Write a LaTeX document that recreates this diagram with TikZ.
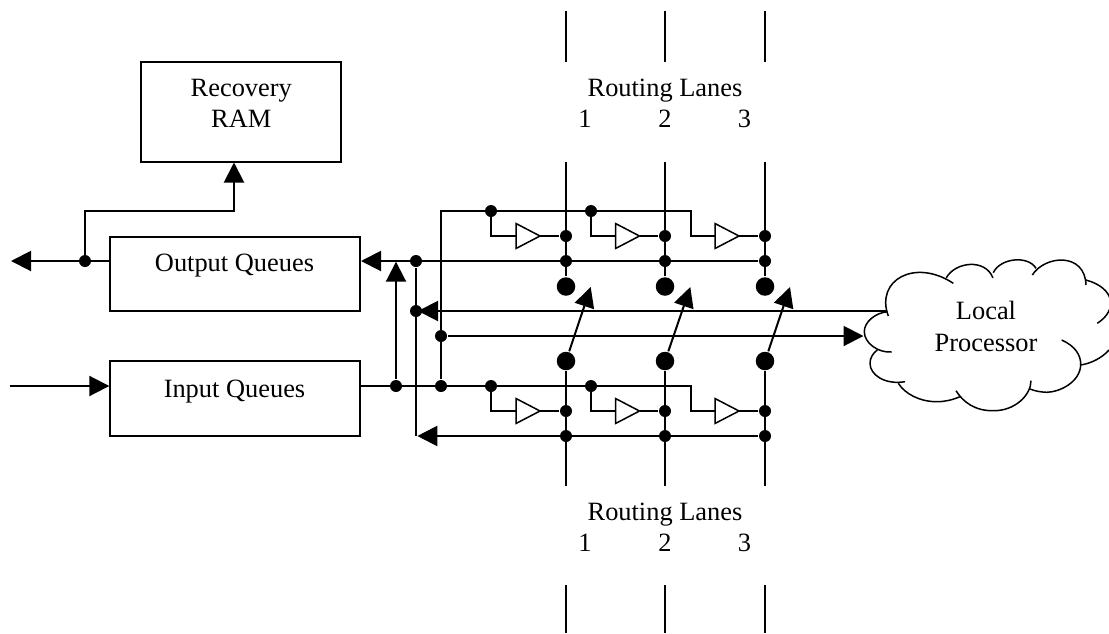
\documentclass[tikz,border=0pt]{standalone}
\usepackage{fontspec}
\setmainfont{Liberation Serif}
\usetikzlibrary{arrows.meta,shapes.geometric}
\tikzset{
	jdot/.style={circle,fill=black,inner sep=0pt,minimum size=12pt},
	bigdot/.style={circle,fill=black,inner sep=0pt,minimum size=18.5pt},
	buf/.style={draw,line width=1.5pt,isosceles triangle,isosceles triangle apex angle=55,isosceles triangle stretches=true,minimum height=24pt,minimum width=25pt,inner sep=0pt,outer sep=0pt,anchor=lower side},
	feed/.style={-{Triangle[length=20pt,width=20pt]}},
	box/.style={draw,rectangle,inner sep=0pt,outer sep=0pt},
	lbl/.style={font=\fontsize{26.4}{30}\selectfont,anchor=base,inner sep=0pt},
	puff/.style={line width=1.5pt}
}

\begin{document}
\begin{tikzpicture}[x=1pt,y=-1pt,line width=2pt]
	\def\xone{566}
	\def\xtwo{665}
	\def\xthree{765}
	\def\yrail{211}
	\def\ybufu{236}
	\def\yout{261}
	\def\ybigu{286.5}
	\def\yfrom{311}
	\def\yto{336}
	\def\ybigl{361}
	\def\yin{386}
	\def\ybufl{411}
	\def\yback{436}
	\useasboundingbox (0,0) rectangle (1109,633);

	% boxes
	\node[box,minimum width=200pt,minimum height=100pt] (ram) at (241,112) {};
	\node[box,minimum width=250pt,minimum height=74pt] (outq) at (235,274) {};
	\node[box,minimum width=250pt,minimum height=75pt] (inq) at (235,398.5) {};
	\node[lbl] (ramA) at (241.3,96.7) {Recovery};
	\node[lbl] (ramB) at (241.3,127.7) {RAM};
	\node[lbl] (outqT) at (234.5,271.7) {Output Queues};
	\node[lbl] (inqT) at (234.5,397) {Input Queues};
	\node[lbl] (procA) at (986,319) {Local};
	\node[lbl] (procB) at (986,351.7) {Processor};

	% lane labels
	\node[lbl] (laneT) at (665,96) {Routing Lanes};
	\node[lbl] (laneTa) at (585,127) {1};
	\node[lbl] (laneTb) at (665,127) {2};
	\node[lbl] (laneTc) at (744.5,127) {3};
	\node[lbl] (laneB) at (665,520) {Routing Lanes};
	\node[lbl] (laneBa) at (585,551) {1};
	\node[lbl] (laneBb) at (665,551) {2};
	\node[lbl] (laneBc) at (744.5,551) {3};

	% lane stubs at the top and the bottom
	\draw (\xone,11) -- (\xone,62);
	\draw (\xtwo,11) -- (\xtwo,62);
	\draw (\xthree,11) -- (\xthree,62);
	\draw (\xone,585) -- (\xone,633);
	\draw (\xtwo,585) -- (\xtwo,633);
	\draw (\xthree,585) -- (\xthree,633);

	% dots
	\node[jdot] (rd) at (85,\yout) {};
	\node[jdot] (vb) at (416,\yout) {};
	\node[jdot] (vc) at (416,\yfrom) {};
	\node[jdot] (ve) at (441,\yto) {};
	\node[jdot] (va) at (396,\yin) {};
	\node[jdot] (vd) at (441,\yin) {};
	\node[jdot] (ta) at (491,\yrail) {};
	\node[jdot] (tb) at (591,\yrail) {};
	\node[jdot] (la) at (491,\yin) {};
	\node[jdot] (lb) at (591,\yin) {};
	\node[jdot] (ua) at (\xone,\ybufu) {};
	\node[jdot] (ub) at (\xtwo,\ybufu) {};
	\node[jdot] (uc) at (\xthree,\ybufu) {};
	\node[jdot] (oa) at (\xone,\yout) {};
	\node[jdot] (ob) at (\xtwo,\yout) {};
	\node[jdot] (oc) at (\xthree,\yout) {};
	\node[jdot] (da) at (\xone,\ybufl) {};
	\node[jdot] (db) at (\xtwo,\ybufl) {};
	\node[jdot] (dc) at (\xthree,\ybufl) {};
	\node[jdot] (ka) at (\xone,\yback) {};
	\node[jdot] (kb) at (\xtwo,\yback) {};
	\node[jdot] (kc) at (\xthree,\yback) {};
	\node[bigdot] (sa) at (\xone,\ybigu) {};
	\node[bigdot] (sb) at (\xtwo,\ybigu) {};
	\node[bigdot] (sc) at (\xthree,\ybigu) {};
	\node[bigdot] (ga) at (\xone,\ybigl) {};
	\node[bigdot] (gb) at (\xtwo,\ybigl) {};
	\node[bigdot] (gc) at (\xthree,\ybigl) {};

	% buffers
	\node[buf] (bufa) at (516,\ybufu) {};
	\node[buf] (bufb) at (615.5,\ybufu) {};
	\node[buf] (bufc) at (715,\ybufu) {};
	\node[buf] (bufd) at (516,\ybufl) {};
	\node[buf] (bufe) at (615.5,\ybufl) {};
	\node[buf] (buff) at (715,\ybufl) {};

	% free ends
	\coordinate (railend) at (691,\yrail);
	\coordinate (inend) at (691,\yin);
	\coordinate (railstart) at (441,\yrail);
	\coordinate (backend) at (416,\yback);
	\coordinate (backtip) at (417.3,\yback);
	\coordinate (vctip) at (418,\yfrom);
	\coordinate (outtip) at (361,\yout);
	\coordinate (uptip) at (396,261.7);
	\coordinate (ramtip) at (234,162.5);
	\coordinate (leftout) at (11,\yout);
	\coordinate (outqw) at (110,\yout);
	\coordinate (leftin) at (9.5,\yin);
	\coordinate (inqw) at (109.3,\yin);
	\coordinate (inqe) at (360,\yin);
	\coordinate (procin) at (887.3,\yfrom);
	\coordinate (procout) at (863.5,\yto);
	\coordinate (lta) at (\xone,162);
	\coordinate (ltb) at (\xtwo,162);
	\coordinate (ltc) at (\xthree,162);
	\coordinate (lba) at (\xone,486);
	\coordinate (lbb) at (\xtwo,486);
	\coordinate (lbc) at (\xthree,486);
	\coordinate (tipa) at (590.7,287);
	\coordinate (tipb) at (690.3,287);
	\coordinate (tipc) at (790,287);

	% lanes
	\draw (lta) -- (sa);
	\draw (ltb) -- (sb);
	\draw (ltc) -- (sc);
	\draw (ga) -- (lba);
	\draw (gb) -- (lbb);
	\draw (gc) -- (lbc);

	% switches
	\draw[feed] (ga) -- (tipa);
	\draw[feed] (gb) -- (tipb);
	\draw[feed] (gc) -- (tipc);

	% recovery side
	\draw[feed] (leftin) -- (inqw);
	\draw[feed] (outqw) -- (leftout);
	\draw[feed] (rd.center) -- ++(0,-50) -| (ramtip);

	% buses
	\draw[feed] (oc) -- (outtip);
	\draw[feed] (procin) -- (vctip);
	\draw[feed] (ve) -- (procout);
	\draw[feed] (kc) -- (backtip);
	\draw[feed] (va) -- (uptip);
	\draw (vb) -- (backend);
	\draw (vd) -- (railstart) -- (railend) |- (bufc.lower side);
	\draw (inqe) -- (inend) |- (buff.lower side);

	% buffer feeds
	\draw (ta.center) |- (bufa.lower side);
	\draw (tb.center) |- (bufb.lower side);
	\draw (la.center) |- (bufd.lower side);
	\draw (lb.center) |- (bufe.lower side);
	\draw (bufa.apex) -- (ua);
	\draw (bufb.apex) -- (ub);
	\draw (bufc.apex) -- (uc);
	\draw (bufd.apex) -- (da);
	\draw (bufe.apex) -- (db);
	\draw (buff.apex) -- (dc);

	% cloud
	\draw[puff] (888.3,316) .. controls (875,280) and (915,258) .. (953.3,283.3);
	\draw[puff] (946.3,277.8) .. controls (955,262) and (985,258) .. (992.9,277.8);
	\draw[puff] (993.3,272.7) .. controls (1000,258) and (1028,255) .. (1036,268.3);
	\draw[puff] (1032.3,275) .. controls (1045,255) and (1085,252) .. (1086,285);
	\draw[puff] (1086,280) .. controls (1115,288) and (1118,310) .. (1097.3,323.3);
	\draw[puff] (1061.7,340) .. controls (1075,346) and (1081,355) .. (1080.7,365) .. controls (1080,382) and (1060,392) .. (1046.7,392.3) .. controls (1040,392) and (1035,391) .. (1030,389);
	\draw[puff] (1080,365) .. controls (1090,364) and (1102,358) .. (1109,350);
	\draw[puff] (1031,380.7) .. controls (1031,395) and (1015,411) .. (993.3,410.7) .. controls (975,411) and (963,402) .. (956,390.7);
	\draw[puff] (960,396.7) .. controls (952,400) and (945,401.7) .. (936.7,401.7) .. controls (920,401.7) and (905,394) .. (898.3,383.3);
	\draw[puff] (905,381.7) .. controls (885,385) and (870,375) .. (870,363.3) .. controls (870,358) and (873,353) .. (877.3,350);
	\draw[puff] (891.7,352) .. controls (878,353) and (864.3,343) .. (864.3,331.7) .. controls (864.3,322) and (875,313) .. (887.3,311.7);
\end{tikzpicture}
\end{document}
